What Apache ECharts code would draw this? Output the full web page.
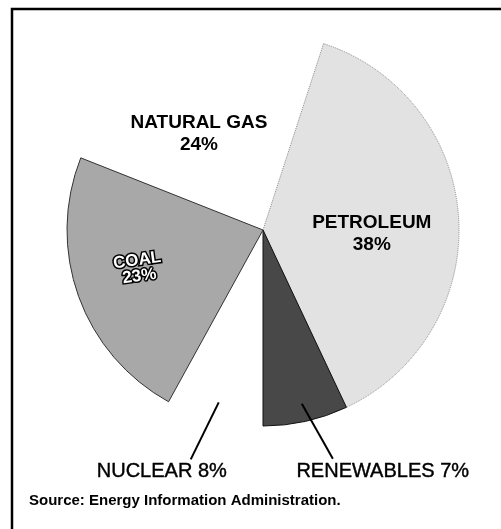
<!DOCTYPE html>
<html>
<head>
<meta charset="utf-8">
<script src="https://cdn.jsdelivr.net/npm/echarts@6/dist/echarts.min.js"></script>
<style>
html,body{margin:0;padding:0;background:#fff;}
#chart{width:501px;height:529px;}
</style>
</head>
<body>
<div id="chart"></div>
<script>
// energy consumption shares, clockwise from petroleum
const categories = ['PETROLEUM', 'RENEWABLES', 'NUCLEAR', 'COAL', 'NATURAL GAS'];
const shares = [38, 7, 8, 23, 24];
const sourceNote = 'Source: Energy Information Administration.';

const fontFam = '"Liberation Sans", Arial, sans-serif';
const outerLabels = ['NUCLEAR', 'RENEWABLES'];

// looks per slice (nuclear and natural gas are left blank in the original)
const sliceStyle = {
    'PETROLEUM': {color: '#e2e2e2', borderColor: '#8a8a8a', borderWidth: 1, borderType: 'dotted'},
    'RENEWABLES': {color: '#484848', borderColor: '#111', borderWidth: 1},
    'NUCLEAR': {color: 'rgba(255,255,255,0)', borderWidth: 0},
    'COAL': {color: '#a8a8a8', borderColor: '#333', borderWidth: 1},
    'NATURAL GAS': {color: 'rgba(255,255,255,0)', borderWidth: 0}
};
const insideLabel = {
    'PETROLEUM': {offset: [8, 10]},
    'NATURAL GAS': {offset: [-21, -5]},
    'COAL': {offset: [-30, 0], rotate: 8, color: '#fff', textBorderColor: '#000', textBorderWidth: 3, fontSize: 17, lineHeight: 16}
};
// outer text placement relative to its sector box (dx from box centre, dy from box bottom)
const outerTextShift = {'NUCLEAR': [-54, 45], 'RENEWABLES': [78, 45]};
// leader direction from where it leaves the inner sector
const leaderVec = {'NUCLEAR': [-28, 57], 'RENEWABLES': [31, 55]};

// main pie: fills, inside labels and the outer texts
let pieData = categories.map((name, i) => {
    let item = {name: name, value: shares[i], itemStyle: sliceStyle[name]};
    if (outerLabels.indexOf(name) >= 0) {
        item.label = {
            position: 'outside',
            formatter: '{b} {c}%',
            fontSize: 20,
            color: '#000',
            textBorderColor: '#000',
            textBorderWidth: 0.4
        };
        item.labelLine = {show: false};
    } else {
        item.label = Object.assign({
            position: 'inside',
            formatter: '{b}\n{c}%',
            fontSize: 19,
            fontWeight: 'bold',
            lineHeight: 22,
            color: '#000'
        }, insideLabel[name]);
    }
    return item;
});

// invisible smaller pie that only carries the leader lines, so they start inside the slices
let leaderData = categories.map((name, i) => {
    let item = {name: name, value: shares[i]};
    if (outerLabels.indexOf(name) >= 0) {
        item.label = {show: true, position: 'outside', formatter: '.', fontSize: 2, color: 'rgba(0,0,0,0)', textBorderWidth: 0};
        item.labelLine = {show: true, length: 40, length2: 0, lineStyle: {color: '#000', width: 2}};
    } else {
        item.label = {show: false};
        item.labelLine = {show: false};
    }
    return item;
});

var myChart = echarts.init(document.getElementById('chart'));
var option = {
    backgroundColor: '#fff',
    animation: false,
    textStyle: {fontFamily: fontFam},
    graphic: [
        {
            type: 'rect',
            shape: {x: 12, y: 9, width: 700, height: 700},
            style: {fill: 'none', stroke: '#000', lineWidth: 2.5}
        },
        {
            type: 'text',
            x: 29,
            y: 501,
            style: {
                text: sourceNote,
                fontFamily: fontFam,
                fontSize: 15,
                fontWeight: 'bold',
                fill: '#000',
                verticalAlign: 'middle'
            }
        }
    ],
    series: [{
        type: 'pie',
        center: [263, 230],
        radius: [0, 196],
        startAngle: 72,
        clockwise: true,
        avoidLabelOverlap: false,
        silent: true,
        labelLine: {show: false},
        data: pieData,
        labelLayout: function (params) {
            let name = categories[params.dataIndex];
            let s = outerTextShift[name];
            if (!s) {
                return {};
            }
            let r = params.rect;
            return {
                x: r.x + r.width / 2 + s[0],
                y: r.y + r.height + s[1],
                align: 'center',
                verticalAlign: 'middle'
            };
        }
    }, {
        type: 'pie',
        center: [263, 230],
        radius: [0, 178],
        startAngle: 72,
        clockwise: true,
        avoidLabelOverlap: false,
        silent: true,
        z: 5,
        itemStyle: {color: 'rgba(0,0,0,0)', borderWidth: 0},
        data: leaderData,
        labelLayout: function (params) {
            let name = categories[params.dataIndex];
            let v = leaderVec[name];
            if (!v || !params.labelLinePoints) {
                return {};
            }
            let p0 = params.labelLinePoints[0];
            let end = [p0[0] + v[0], p0[1] + v[1]];
            return {labelLinePoints: [p0, end, end]};
        }
    }]
};
myChart.setOption(option);
</script>
</body>
</html>
